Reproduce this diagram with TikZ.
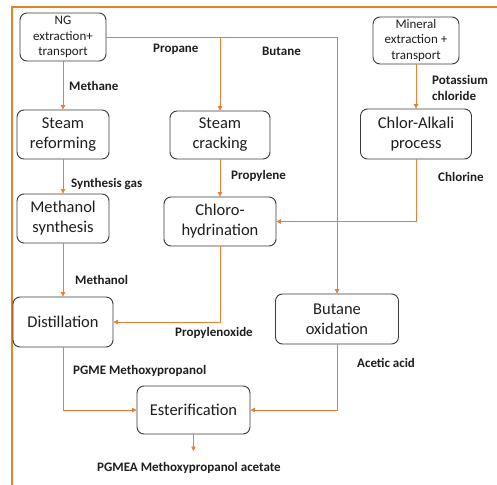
\documentclass[tikz,border=0pt]{standalone}
\usepackage{fontspec}
\setmainfont{Carlito}
\usetikzlibrary{arrows.meta}
\definecolor{flowor}{HTML}{ED7D31}
\definecolor{frameor}{HTML}{E58424}
\definecolor{boxline}{HTML}{3A3A3A}
\definecolor{txt}{HTML}{1E1E1E}
\begin{document}
\begin{tikzpicture}[x=1pt,y=-1pt,
  proc/.style={draw=boxline,line width=0.9pt,rounded corners=7pt,align=center,
    text=txt,font=\fontsize{16.5}{20}\selectfont,inner sep=0pt},
  srcbox/.style={draw=boxline,line width=0.9pt,rounded corners=7pt,align=center,
    text=txt,font=\fontsize{13}{15.6}\selectfont,inner sep=0pt},
  flow/.style={draw=flowor,line width=0.8pt,-{Triangle[length=4.5pt,width=4.5pt]}},
  lbl/.style={anchor=west,inner sep=0pt,align=left,text=txt,
    font=\fontsize{13}{16}\selectfont\bfseries}]
\useasboundingbox (0,0) rectangle (497,484);
\fill[white] (0,0) rectangle (497,484);
% outer frame (top and left edges)
\draw[frameor,line width=1.8pt] (12,490) -- (12,7) -- (505,7);

% process boxes
\node[srcbox,minimum width=86pt,minimum height=48pt] (ng) at (63,37) {NG\\extraction+\\transport};
\node[srcbox,minimum width=86pt,minimum height=47pt] (mineral) at (416,40.5) {Mineral\\extraction +\\transport};
\node[proc,minimum width=92pt,minimum height=49pt] (reform) at (63,134.5) {Steam\\reforming};
\node[proc,minimum width=100pt,minimum height=48pt] (crack) at (220,135) {Steam\\cracking};
\node[proc,minimum width=111pt,minimum height=50pt] (chloralk) at (416,134) {Chlor-Alkali\\process};
\node[proc,minimum width=92pt,minimum height=49pt] (methsyn) at (63,218.5) {Methanol\\synthesis};
\node[proc,minimum width=112pt,minimum height=49pt] (chloro) at (220,221.5) {Chloro-\\hydrination};
\node[proc,minimum width=100pt,minimum height=50pt] (distill) at (63,322) {Distillation};
\node[proc,minimum width=123pt,minimum height=50pt] (butox) at (337,319) {Butane\\oxidation};
\node[proc,minimum width=113pt,minimum height=48pt] (ester) at (193.5,410) {Esterification};
\coordinate (product) at (193.5,451);
\coordinate (pj) at (crack.north |- ng.east);

% connectors
\draw[flow] (ng.east) -| (butox.north);
\draw[flow] (pj) -- (crack.north);
\draw[flow] (ng.south) -- (reform.north);
\draw[flow] (mineral.south) -- (chloralk.north);
\draw[flow] (reform.south) -- (methsyn.north);
\draw[flow] (crack.south) -- (chloro.north);
\draw[flow] (chloralk.south) |- (chloro.east);
\draw[flow] (methsyn.south) -- (distill.north);
\draw[flow] (chloro.south) |- (distill.east);
\draw[flow] (distill.south) |- (ester.west);
\draw[flow] (butox.south) |- (ester.east);
\draw[flow] (ester.south) -- (product);

% stream labels
\node[lbl] (lmethane) at (69,86) {Methane};
\node[lbl] (lpropane) at (153,49) {Propane};
\node[lbl] (lbutane) at (262,51) {Butane};
\node[lbl] (lkcl) at (432,88) {Potassium\\chloride};
\node[lbl] (lsyngas) at (71,184) {Synthesis gas};
\node[lbl] (lpropyl) at (231,176) {Propylene};
\node[lbl] (lchlor) at (438,177) {Chlorine};
\node[lbl] (lmethanol) at (75,280) {Methanol};
\node[lbl] (lpo) at (175,333) {Propylenoxide};
\node[lbl] (lpgme) at (73,371) {PGME Methoxypropanol};
\node[lbl] (lacetic) at (357,363) {Acetic acid};
\node[lbl] (lpgmea) at (97,468) {PGMEA Methoxypropanol acetate};
\end{tikzpicture}
\end{document}
